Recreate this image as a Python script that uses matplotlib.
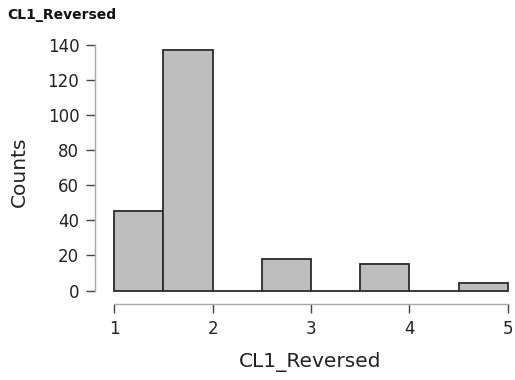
import matplotlib
matplotlib.use("Agg")
import matplotlib.pyplot as plt
import numpy as np

# binned counts of CL1_Reversed
bin_edges = [1.0, 1.5, 2.0, 2.5, 3.0, 3.5, 4.0, 4.5, 5.0]
counts = [45, 137, 0, 18, 0, 15, 0, 4]
x_ticks = [1, 2, 3, 4, 5]
y_ticks = [0, 20, 40, 60, 80, 100, 120, 140]

W, H = 515, 380
fig = plt.figure(figsize=(W / 100, H / 100), dpi=100)
ax = fig.add_axes([114.3 / W, (H - 290.5) / H, 393.4 / W, 246.0 / H])

lefts = np.array(bin_edges[:-1])
widths = np.diff(bin_edges)
# empty bins still get drawn so the baseline shows through
ax.bar(lefts, counts, width=widths, align="edge", color="#bebebe",
       edgecolor="#2b2b2b", linewidth=1.3, zorder=3, clip_on=False)

ax.set_xlim(1, 5)
ax.set_ylim(0, 140)
ax.set_xticks(x_ticks)
ax.set_yticks(y_ticks)

for side in ["top", "right"]:
    ax.spines[side].set_visible(False)
ax.spines["left"].set_position(("outward", 13.7))
ax.spines["bottom"].set_position(("outward", 10))
ax.spines["left"].set_bounds(0, 140)
ax.spines["bottom"].set_bounds(1, 5)
for side in ["left", "bottom"]:
    ax.spines[side].set_color("#a8a8a8")
    ax.spines[side].set_linewidth(1.0)

ax.tick_params(axis="both", direction="out", length=6.5, width=1.0,
               color="#444444", labelsize=12, labelcolor="#222222", pad=5)
ax.set_facecolor("none")

fig.text(7 / W, 1 - 15 / H, "CL1_Reversed", fontsize=10, fontweight="bold",
         ha="left", va="center", color="#111111")
fig.text(19.5 / W, 1 - 172 / H, "Counts", fontsize=14.5, rotation=90,
         ha="center", va="center", color="#222222")
fig.text(310 / W, 1 - 362 / H, "CL1_Reversed", fontsize=14.5,
         ha="center", va="center", color="#222222")

fig.savefig("out.png", dpi=100)
